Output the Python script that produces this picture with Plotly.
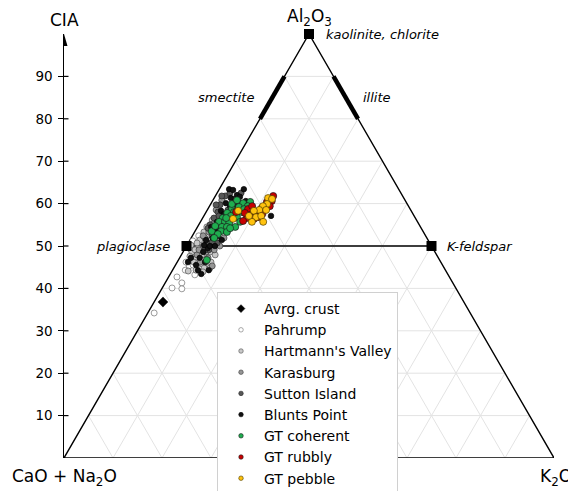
import numpy as np
import plotly.graph_objects as go

# ---------------- data (CIA = Al2O3 %, K = K2O %, CaO+Na2O = remainder) ----------------
crust_cia = [36.8]
crust_k = [1.8]

pahrump_cia = [42.7, 41.3, 40.1, 39.9, 34.2, 45.3, 45.5, 46.2, 49.3, 51.2, 52.4, 44.3, 43.2, 44.8]
pahrump_k = [1.7, 3.4, 2.0, 4.1, 1.3, 2.9, 3.6, 1.8, 1.1, 0.7, 1.3, 2.6, 5.1, 6.4]

hartmann_cia = [48.6, 47.2, 45.8, 44.8, 49.5, 47.9, 46.2, 51.4, 50.0, 48.6, 44.3, 51.4, 44.1, 53.3,
                54.5, 56.1, 44.8, 50.2, 49.1, 46.2, 46.2, 43.9, 46.2, 47.6, 50.7, 47.9]
hartmann_k = [1.8, 3.3, 5.1, 6.2, 2.6, 4.2, 3.4, 2.0, 3.8, 5.5, 4.8, 3.7, 3.3, 1.9,
              1.9, 2.2, 7.4, 0.8, 2.2, 4.4, 5.9, 6.4, 6.9, 1.9, 1.8, 6.9]

karasburg_cia = [51.9, 50.5, 49.1, 48.6, 46.2, 51.4, 53.3, 55.2, 53.8, 47.9, 50.0, 50.0, 51.9, 58.5,
                 60.8, 52.4, 47.2, 51.9, 54.2, 49.1, 54.2, 45.3]
karasburg_k = [2.8, 4.8, 6.1, 4.7, 4.7, 5.3, 2.9, 2.8, 4.7, 3.2, 6.8, 3.4, 6.7, 1.8,
               1.8, 2.2, 5.8, 5.5, 3.5, 3.0, 5.8, 7.6]

sutton_cia = [59.7, 61.8, 62.5, 58.0, 56.6, 55.0, 55.7, 53.8, 52.4, 50.9, 50.7, 58.5, 61.1, 62.5,
              49.1, 53.8, 61.8, 59.7, 57.1, 54.2, 50.9, 56.1, 49.1]
sutton_k = [2.0, 2.0, 2.6, 2.4, 2.3, 2.3, 4.4, 6.2, 4.0, 3.7, 5.9, 4.2, 4.3, 4.9,
            5.0, 3.9, 1.3, 1.2, 3.1, 2.3, 4.8, 5.4, 4.2]

blunts_cia = [63.4, 63.4, 62.0, 57.1, 43.4, 47.2, 45.5, 61.3, 61.6, 60.1, 60.6, 58.3, 59.7, 55.7,
              51.9, 49.5, 50.2, 51.4, 47.2, 53.3, 56.6, 54.5, 44.3, 54.0, 54.7, 57.5, 51.4, 50.0,
              48.6, 52.4, 55.2, 46.2, 44.3, 46.2, 50.0, 59.4, 60.1, 63.2]
blunts_k = [2.0, 5.0, 4.3, 13.7, 6.3, 2.3, 4.2, 3.4, 5.1, 3.0, 6.8, 2.9, 5.2, 3.4,
            4.4, 4.6, 3.5, 6.5, 4.1, 4.4, 5.4, 2.8, 5.2, 3.6, 4.5, 3.9, 3.3, 4.8,
            4.1, 5.2, 5.5, 5.7, 7.4, 2.2, 5.8, 4.2, 5.9, 2.9]

coherent_cia = [60.4, 60.1, 59.4, 59.2, 58.7, 57.8, 58.0, 58.0, 57.1, 56.6, 56.8, 55.7, 55.7, 55.4,
                54.5, 54.5, 54.5, 53.5, 53.5, 53.3, 52.8, 54.7, 59.9, 60.8, 46.7, 51.9, 55.7, 56.6,
                58.7, 54.2]
coherent_k = [7.8, 6.5, 7.8, 6.1, 4.9, 4.4, 5.7, 7.3, 5.5, 4.1, 6.9, 3.8, 5.0, 6.0,
              7.7, 5.0, 6.0, 5.3, 3.4, 6.6, 5.0, 3.5, 4.3, 4.9, 5.8, 4.7, 8.1, 4.8,
              7.4, 6.8]

rubbly_cia = [61.8, 60.6, 60.4, 59.0, 58.7, 57.3, 58.0, 56.8, 57.5, 56.4, 56.6, 55.9, 58.0, 59.4,
              59.4, 57.8]
rubbly_k = [11.8, 12.1, 11.2, 10.9, 8.2, 9.3, 10.0, 11.2, 11.7, 10.6, 9.0, 8.6, 6.1, 8.7,
            12.3, 8.0]

pebble_cia = [61.3, 59.9, 59.4, 58.5, 58.5, 58.3, 56.8, 57.1, 55.7, 55.7, 56.4, 58.3, 61.1, 57.1]
pebble_k = [11.0, 11.5, 10.9, 10.6, 12.0, 9.6, 10.8, 11.7, 12.8, 10.5, 6.3, 6.4, 11.9, 9.2]

# reference minerals (CIA, K)
plag = (50, 0)
kfs = (50, 50)
kaol = (100, 0)
smectite_cia = [80, 90]
illite_cia = [80, 90]

cia_ticks = [10, 20, 30, 40, 50, 60, 70, 80, 90]

FONT = "DejaVu Sans"


def tx(cia, k):
    """horizontal position (0-100 along base) of a composition"""
    return np.asarray(k, dtype=float) + np.asarray(cia, dtype=float) / 2


fig = go.Figure()

# ---- grid ----
gx, gy = [], []
for t in cia_ticks:
    gx += [t / 2, 100 - t / 2, None]
    gy += [t, t, None]
    gx += [t, t + (100 - t) / 2, None]
    gy += [0, 100 - t, None]
    gx += [100 - t, (100 - t) / 2, None]
    gy += [0, 100 - t, None]
fig.add_trace(go.Scatter(x=gx, y=gy, mode="lines", line=dict(color="#e3e3e3", width=1),
                         hoverinfo="skip", showlegend=False, cliponaxis=False))

# ---- triangle & feldspar join ----
fig.add_trace(go.Scatter(x=[0, 50, 100, 0], y=[0, 100, 0, 0], mode="lines",
                         line=dict(color="black", width=1.4), showlegend=False,
                         hoverinfo="skip", cliponaxis=False))
fig.add_trace(go.Scatter(x=tx([plag[0], kfs[0]], [plag[1], kfs[1]]), y=[plag[0], kfs[0]],
                         mode="lines", line=dict(color="black", width=1.4), showlegend=False,
                         hoverinfo="skip", cliponaxis=False))

# ---- samples ----
series = [
    ("Pahrump", pahrump_cia, pahrump_k, "white", "#707070", 6, "circle"),
    ("Hartmann's Valley", hartmann_cia, hartmann_k, "#c8c8c8", "#505050", 6, "circle"),
    ("Karasburg", karasburg_cia, karasburg_k, "#969696", "#3a3a3a", 6, "circle"),
    ("Sutton Island", sutton_cia, sutton_k, "#575757", "#222222", 6, "circle"),
    ("Blunts Point", blunts_cia, blunts_k, "#111111", "#000000", 5.5, "circle"),
    ("GT coherent", coherent_cia, coherent_k, "#1fae4f", "#1a1a1a", 7, "circle"),
    ("GT rubbly", rubbly_cia, rubbly_k, "#c80000", "#1a1a1a", 7, "circle"),
    ("GT pebble", pebble_cia, pebble_k, "#ffc20e", "#4a3a00", 7, "circle"),
]

legend_entries = [("Avrg. crust", "black", "black", "diamond", 6)]
for name, c, k, fill, edge, size, sym in series:
    fig.add_trace(go.Scatter(x=tx(c, k), y=c, mode="markers", name=name, legendgroup=name,
                             showlegend=False, cliponaxis=False,
                             marker=dict(color=fill, size=size, symbol=sym,
                                         line=dict(color=edge, width=0.7))))
    legend_entries.append((name, fill, edge, sym, 4.5))

fig.add_trace(go.Scatter(x=tx(crust_cia, crust_k), y=crust_cia, mode="markers",
                         name="Avrg. crust", legendgroup="Avrg. crust", showlegend=False,
                         cliponaxis=False,
                         marker=dict(color="black", size=8, symbol="diamond")))

# ---- mineral markers ----
fig.add_trace(go.Scatter(x=tx(smectite_cia, [0, 0]), y=smectite_cia, mode="lines",
                         line=dict(color="black", width=4.5), showlegend=False,
                         hoverinfo="skip", cliponaxis=False))
fig.add_trace(go.Scatter(x=tx(illite_cia, [100 - v for v in illite_cia]), y=illite_cia,
                         mode="lines", line=dict(color="black", width=4.5), showlegend=False,
                         hoverinfo="skip", cliponaxis=False))
fig.add_trace(go.Scatter(x=tx([kaol[0], plag[0], kfs[0]], [kaol[1], plag[1], kfs[1]]),
                         y=[kaol[0], plag[0], kfs[0]], mode="markers",
                         marker=dict(color="black", size=10, symbol="square"),
                         showlegend=False, hoverinfo="skip", cliponaxis=False))

# ---- legend entries ----
for name, fill, edge, sym, size in legend_entries:
    fig.add_trace(go.Scatter(x=[None], y=[None], mode="markers", name=name, legendgroup=name,
                             marker=dict(color=fill, size=size, symbol=sym,
                                         line=dict(color=edge, width=0.6))))

# ---- annotations (paper coords = data / 100) ----
ann = []
def add_text(x, y, text, size, xanchor="center", yanchor="middle", italic=False):
    if italic:
        text = "<i>" + text + "</i>"
    ann.append(dict(x=x / 100, y=y / 100, xref="paper", yref="paper", text=text, showarrow=False,
                    xanchor=xanchor, yanchor=yanchor,
                    font=dict(family=FONT, size=size, color="black")))

add_text(0, 103.4, "CIA", 17)
add_text(50, 103.9, "Al<sub>2</sub>O<sub>3</sub>", 17)
add_text(0.2, -4.6, "CaO + Na<sub>2</sub>O", 17)
add_text(100.4, -4.6, "K<sub>2</sub>O", 17)
add_text(53.0, 100, "kaolinite, chlorite", 13, xanchor="left", italic=True)
add_text(39.2, 85.1, "smectite", 13, xanchor="right", italic=True)
add_text(60.6, 85.1, "illite", 13, xanchor="left", italic=True)
add_text(22.0, 50, "plagioclase", 13, xanchor="right", italic=True)
add_text(77.8, 50, "K-feldspar", 13, xanchor="left", italic=True)

# ---- axis arrow and inner tick halves ----
shapes = [dict(type="path", xref="x", yref="y", xsizemode="pixel", ysizemode="pixel",
               xanchor=0, yanchor=100, path="M -3.5,-12 L 3.5,-12 L 0,0 Z",
               fillcolor="black", line=dict(width=0))]
for t in cia_ticks:
    shapes.append(dict(type="line", xref="x", yref="y", xsizemode="pixel", xanchor=0,
                       x0=0, x1=4.5, y0=t, y1=t, line=dict(color="black", width=1.2)))

# page body has an 8px margin: figure is 568x483 so it sits at (8,8)
fig.update_layout(
    width=568, height=483,
    margin=dict(l=56, r=22, t=26, b=33, autoexpand=False),
    paper_bgcolor="white", plot_bgcolor="white",
    font=dict(family=FONT, size=13, color="black"),
    xaxis=dict(range=[0, 100], visible=False, fixedrange=True, automargin=False),
    yaxis=dict(range=[0, 100], tickvals=cia_ticks, ticks="outside", ticklen=4.5, tickwidth=1.2,
               tickcolor="black", showline=True, linecolor="black", linewidth=1.3,
               showgrid=False, zeroline=False, ticklabelstandoff=3, automargin=False,
               tickfont=dict(family=FONT, size=13.5, color="black"), fixedrange=True),
    legend=dict(x=(217 - 64) / 490, y=(458 - 292) / 424,
                xanchor="left", yanchor="top",
                bgcolor="white", bordercolor="#d0d0d0", borderwidth=1,
                font=dict(family=FONT, size=14, color="black"),
                itemwidth=36, tracegroupgap=0, traceorder="grouped"),
    annotations=ann,
    shapes=shapes,
    showlegend=True,
)

fig.write_html("out.html")
